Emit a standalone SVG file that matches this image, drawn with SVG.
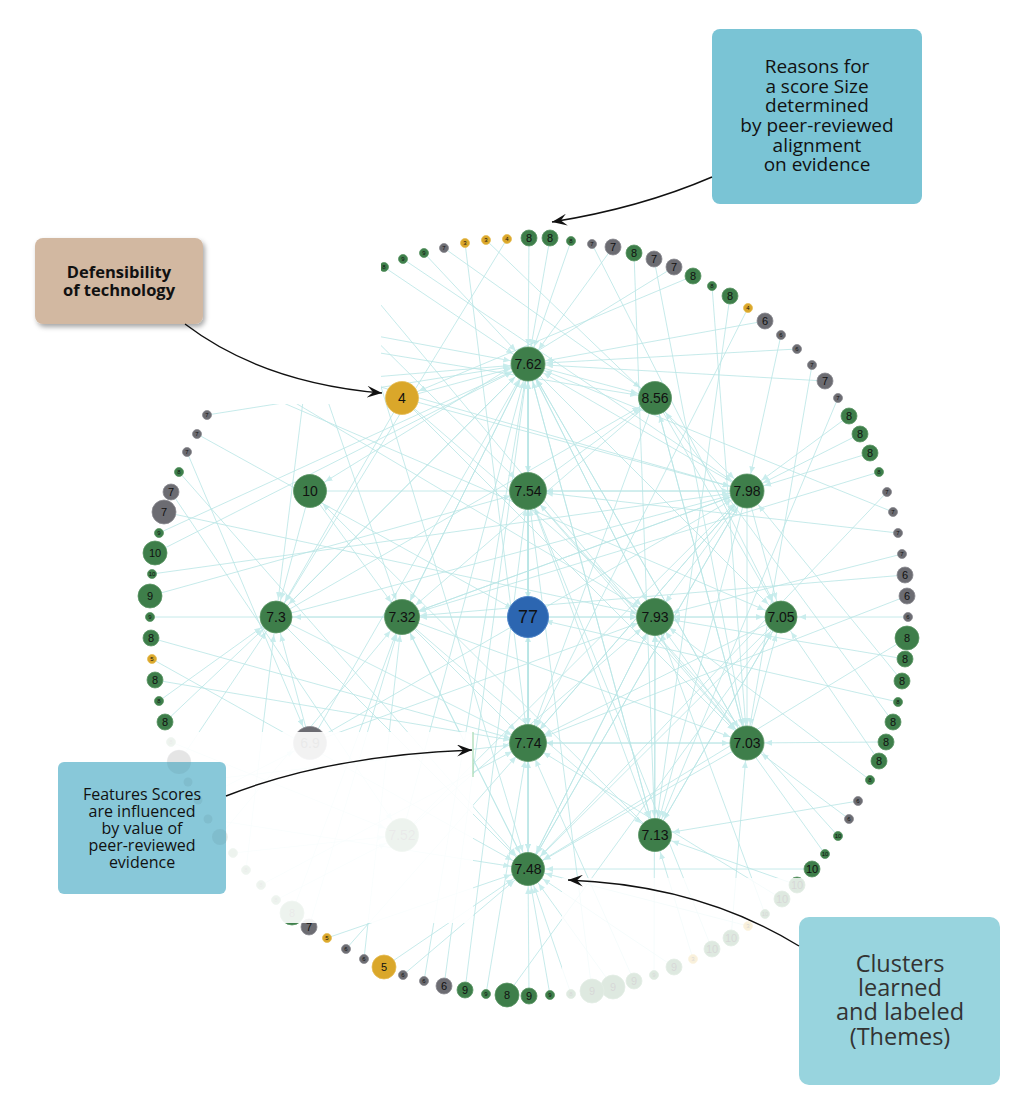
<svg xmlns="http://www.w3.org/2000/svg" width="1024" height="1116" viewBox="0 0 1024 1116">
<style>
.edges line{stroke:#b9e5e5;stroke-width:0.9;opacity:0.9;marker-end:url(#ah)}
.g circle{fill:#3e7e4a;stroke:#5b9565;stroke-width:0.8}
.y circle{fill:#daa72a;stroke:#e6bd55;stroke-width:0.8}
.k circle{fill:#6c6c72;stroke:#8a8a90;stroke-width:0.8}
.b circle{fill:#2c66b1;stroke:#4d84c8;stroke-width:1}
text{font-family:"Liberation Sans",Arial,sans-serif;fill:#111;text-anchor:middle;dominant-baseline:central}
.ts{font-size:6px}
.tm{font-size:11px}
.tl{font-size:13px}
.tc{font-size:14px}
.note{font-family:"Open Sans","Noto Sans",sans-serif;dominant-baseline:auto}
.conn{fill:none;stroke:#111;stroke-width:1.4;marker-end:url(#bk)}
</style>
<defs>
<marker id="ah" markerUnits="userSpaceOnUse" markerWidth="7" markerHeight="6" refX="25" refY="3" orient="auto"><path d="M0,0 L7,3 L0,6 z" fill="#c5ecec"/></marker>
<marker id="bk" markerUnits="userSpaceOnUse" markerWidth="16" markerHeight="12" refX="15" refY="6" orient="auto"><path d="M0,0 L15,6 L0,12 L6,6 z" fill="#111"/></marker>
<filter id="sh" x="-20%" y="-20%" width="150%" height="160%"><feDropShadow dx="2" dy="3" stdDeviation="2.5" flood-color="#000" flood-opacity="0.35"/></filter>
</defs>
<rect width="1024" height="1116" fill="#fff"/>
<g id="connectors" class="edges">
<line x1="384" y1="267" x2="528" y2="364"/><line x1="403" y1="259" x2="747" y2="491"/><line x1="424" y1="253" x2="528" y2="364"/><line x1="444" y1="248" x2="655" y2="398"/><line x1="465" y1="243" x2="528" y2="743"/><line x1="486" y1="240" x2="747" y2="491"/><line x1="507" y1="239" x2="276" y2="617"/><line x1="529" y1="238" x2="528" y2="364"/><line x1="550" y1="238" x2="528" y2="364"/><line x1="571" y1="241" x2="528" y2="364"/><line x1="592" y1="244" x2="781" y2="617"/><line x1="613" y1="247" x2="528" y2="364"/><line x1="634" y1="253" x2="655" y2="835"/><line x1="654" y1="259" x2="747" y2="743"/><line x1="674" y1="267" x2="310" y2="491"/><line x1="693" y1="276" x2="402" y2="398"/><line x1="712" y1="286" x2="747" y2="743"/><line x1="730" y1="296" x2="655" y2="835"/><line x1="748" y1="308" x2="528" y2="743"/><line x1="765" y1="321" x2="528" y2="364"/><line x1="781" y1="335" x2="747" y2="491"/><line x1="797" y1="349" x2="528" y2="364"/><line x1="812" y1="365" x2="747" y2="743"/><line x1="825" y1="381" x2="528" y2="364"/><line x1="838" y1="398" x2="655" y2="835"/><line x1="849" y1="416" x2="747" y2="491"/><line x1="860" y1="434" x2="747" y2="491"/><line x1="870" y1="453" x2="747" y2="491"/><line x1="879" y1="472" x2="402" y2="617"/><line x1="887" y1="492" x2="528" y2="869"/><line x1="893" y1="512" x2="528" y2="364"/><line x1="898" y1="533" x2="528" y2="491"/><line x1="902" y1="554" x2="655" y2="617"/><line x1="905" y1="575" x2="402" y2="617"/><line x1="907" y1="596" x2="528" y2="743"/><line x1="908" y1="617" x2="781" y2="617"/><line x1="907" y1="638" x2="528" y2="869"/><line x1="905" y1="659" x2="655" y2="617"/><line x1="902" y1="681" x2="747" y2="491"/><line x1="898" y1="702" x2="528" y2="617"/><line x1="893" y1="722" x2="655" y2="398"/><line x1="886" y1="742" x2="747" y2="743"/><line x1="879" y1="761" x2="781" y2="617"/><line x1="870" y1="780" x2="655" y2="617"/><line x1="858" y1="801" x2="655" y2="835"/><line x1="849" y1="819" x2="747" y2="743"/><line x1="838" y1="836" x2="528" y2="491"/><line x1="825" y1="854" x2="655" y2="617"/><line x1="812" y1="869" x2="528" y2="869"/><line x1="797" y1="885" x2="655" y2="835"/><line x1="782" y1="899" x2="528" y2="743"/><line x1="765" y1="914" x2="655" y2="617"/><line x1="748" y1="926" x2="528" y2="869"/><line x1="731" y1="938" x2="747" y2="743"/><line x1="712" y1="949" x2="528" y2="491"/><line x1="693" y1="959" x2="655" y2="835"/><line x1="674" y1="967" x2="528" y2="869"/><line x1="654" y1="975" x2="655" y2="617"/><line x1="634" y1="981" x2="528" y2="743"/><line x1="613" y1="987" x2="528" y2="869"/><line x1="592" y1="991" x2="528" y2="491"/><line x1="571" y1="994" x2="528" y2="869"/><line x1="550" y1="995" x2="528" y2="869"/><line x1="529" y1="996" x2="528" y2="869"/><line x1="507" y1="995" x2="781" y2="617"/><line x1="486" y1="994" x2="528" y2="743"/><line x1="465" y1="990" x2="528" y2="491"/><line x1="444" y1="986" x2="528" y2="364"/><line x1="424" y1="981" x2="528" y2="364"/><line x1="403" y1="975" x2="528" y2="869"/><line x1="384" y1="967" x2="528" y2="869"/><line x1="364" y1="959" x2="402" y2="617"/><line x1="346" y1="949" x2="528" y2="743"/><line x1="327" y1="938" x2="528" y2="869"/><line x1="309" y1="927" x2="402" y2="617"/><line x1="292" y1="913" x2="402" y2="617"/><line x1="276" y1="900" x2="402" y2="835"/><line x1="261" y1="885" x2="528" y2="743"/><line x1="246" y1="870" x2="276" y2="617"/><line x1="233" y1="853" x2="402" y2="835"/><line x1="219" y1="837" x2="402" y2="617"/><line x1="208" y1="819" x2="528" y2="869"/><line x1="197" y1="801" x2="310" y2="743"/><line x1="187" y1="782" x2="528" y2="743"/><line x1="179" y1="762" x2="276" y2="617"/><line x1="171" y1="742" x2="402" y2="835"/><line x1="165" y1="722" x2="276" y2="617"/><line x1="159" y1="701" x2="276" y2="617"/><line x1="155" y1="680" x2="528" y2="743"/><line x1="152" y1="659" x2="528" y2="869"/><line x1="151" y1="638" x2="528" y2="743"/><line x1="150" y1="617" x2="655" y2="617"/><line x1="150" y1="596" x2="528" y2="491"/><line x1="152" y1="574" x2="747" y2="491"/><line x1="155" y1="553" x2="528" y2="364"/><line x1="159" y1="533" x2="528" y2="364"/><line x1="164" y1="512" x2="655" y2="617"/><line x1="171" y1="492" x2="402" y2="835"/><line x1="179" y1="472" x2="528" y2="869"/><line x1="187" y1="452" x2="310" y2="743"/><line x1="197" y1="434" x2="528" y2="617"/><line x1="207" y1="415" x2="528" y2="364"/>
<line x1="290" y1="320" x2="528" y2="364"/><line x1="330" y1="295" x2="528" y2="491"/><line x1="250" y1="350" x2="747" y2="491"/><line x1="300" y1="320" x2="402" y2="617"/><line x1="240" y1="370" x2="655" y2="617"/><line x1="350" y1="285" x2="528" y2="869"/><line x1="220" y1="390" x2="528" y2="364"/><line x1="270" y1="335" x2="655" y2="398"/><line x1="360" y1="280" x2="747" y2="743"/><line x1="230" y1="380" x2="781" y2="617"/><line x1="315" y1="305" x2="276" y2="617"/>
<line x1="528" y1="491" x2="528" y2="617"/><line x1="528" y1="617" x2="528" y2="743"/><line x1="528" y1="743" x2="528" y2="617"/><line x1="528" y1="869" x2="528" y2="743"/><line x1="528" y1="364" x2="528" y2="491"/><line x1="528" y1="617" x2="402" y2="617"/><line x1="528" y1="617" x2="655" y2="617"/><line x1="655" y1="617" x2="781" y2="617"/><line x1="781" y1="617" x2="655" y2="617"/><line x1="402" y1="617" x2="276" y2="617"/><line x1="747" y1="491" x2="528" y2="491"/><line x1="747" y1="743" x2="528" y2="743"/><line x1="528" y1="743" x2="747" y2="743"/><line x1="655" y1="835" x2="655" y2="617"/>
<line x1="402" y1="617" x2="528" y2="364"/><line x1="276" y1="617" x2="528" y2="364"/><line x1="528" y1="869" x2="528" y2="364"/><line x1="655" y1="617" x2="528" y2="364"/><line x1="655" y1="835" x2="528" y2="364"/><line x1="402" y1="835" x2="528" y2="364"/><line x1="310" y1="743" x2="528" y2="364"/><line x1="747" y1="743" x2="528" y2="364"/>
<line x1="402" y1="398" x2="747" y2="491"/><line x1="310" y1="491" x2="747" y2="491"/><line x1="402" y1="617" x2="747" y2="491"/><line x1="276" y1="617" x2="747" y2="491"/><line x1="310" y1="743" x2="747" y2="491"/><line x1="528" y1="743" x2="747" y2="491"/><line x1="528" y1="869" x2="747" y2="491"/><line x1="402" y1="835" x2="747" y2="491"/>
<line x1="528" y1="364" x2="402" y2="617"/><line x1="655" y1="398" x2="402" y2="617"/><line x1="747" y1="491" x2="402" y2="617"/><line x1="528" y1="869" x2="402" y2="617"/><line x1="310" y1="491" x2="402" y2="617"/>
<line x1="528" y1="364" x2="655" y2="617"/><line x1="402" y1="398" x2="655" y2="617"/><line x1="747" y1="491" x2="655" y2="617"/><line x1="310" y1="743" x2="655" y2="617"/><line x1="402" y1="835" x2="655" y2="617"/><line x1="528" y1="869" x2="655" y2="617"/>
<line x1="528" y1="364" x2="747" y2="743"/><line x1="528" y1="491" x2="747" y2="743"/><line x1="402" y1="617" x2="747" y2="743"/><line x1="655" y1="398" x2="747" y2="743"/><line x1="747" y1="491" x2="747" y2="743"/><line x1="402" y1="398" x2="747" y2="743"/>
<line x1="528" y1="364" x2="528" y2="869"/><line x1="528" y1="491" x2="528" y2="869"/><line x1="747" y1="491" x2="528" y2="869"/><line x1="402" y1="617" x2="528" y2="869"/><line x1="655" y1="617" x2="528" y2="869"/><line x1="781" y1="617" x2="528" y2="869"/><line x1="747" y1="743" x2="528" y2="869"/><line x1="276" y1="617" x2="528" y2="869"/>
<line x1="528" y1="364" x2="528" y2="743"/><line x1="747" y1="491" x2="528" y2="743"/><line x1="655" y1="398" x2="528" y2="743"/><line x1="402" y1="617" x2="528" y2="743"/><line x1="276" y1="617" x2="528" y2="743"/><line x1="781" y1="617" x2="528" y2="743"/>
<line x1="528" y1="364" x2="655" y2="835"/><line x1="528" y1="491" x2="655" y2="835"/><line x1="747" y1="491" x2="655" y2="835"/><line x1="781" y1="617" x2="655" y2="835"/><line x1="402" y1="617" x2="655" y2="835"/>
<line x1="655" y1="835" x2="310" y2="491"/><line x1="528" y1="364" x2="276" y2="617"/><line x1="402" y1="398" x2="276" y2="617"/><line x1="310" y1="743" x2="276" y2="617"/><line x1="310" y1="491" x2="276" y2="617"/>
<line x1="747" y1="491" x2="781" y2="617"/><line x1="528" y1="364" x2="781" y2="617"/><line x1="655" y1="398" x2="781" y2="617"/><line x1="655" y1="835" x2="781" y2="617"/><line x1="747" y1="743" x2="781" y2="617"/>
<line x1="528" y1="364" x2="655" y2="398"/><line x1="528" y1="491" x2="655" y2="398"/><line x1="276" y1="617" x2="655" y2="398"/><line x1="747" y1="743" x2="655" y2="398"/><line x1="528" y1="743" x2="528" y2="364"/><line x1="747" y1="491" x2="528" y2="364"/><line x1="402" y1="398" x2="528" y2="364"/>
</g>
<g id="ring">
<g id="r01" class="g"><circle cx="384" cy="267" r="4.5"/><text x="384" y="267" class="ts">8</text></g>
<g id="r02" class="g"><circle cx="403" cy="259" r="4.5"/><text x="403" y="259" class="ts">9</text></g>
<g id="r03" class="g"><circle cx="424" cy="253" r="4.5"/><text x="424" y="253" class="ts">9</text></g>
<g id="r04" class="k"><circle cx="444" cy="248" r="4.5"/><text x="444" y="248" class="ts">7</text></g>
<g id="r05" class="y"><circle cx="465" cy="243" r="4.5"/><text x="465" y="243" class="ts">3</text></g>
<g id="r06" class="y"><circle cx="486" cy="240" r="4.5"/><text x="486" y="240" class="ts">3</text></g>
<g id="r07" class="y"><circle cx="507" cy="239" r="4.5"/><text x="507" y="239" class="ts">4</text></g>
<g id="r08" class="g"><circle cx="529" cy="238" r="8"/><text x="529" y="238" class="tm">8</text></g>
<g id="r09" class="g"><circle cx="550" cy="238" r="8"/><text x="550" y="238" class="tm">8</text></g>
<g id="r10" class="g"><circle cx="571" cy="241" r="4.5"/><text x="571" y="241" class="ts">8</text></g>
<g id="r11" class="k"><circle cx="592" cy="244" r="4.5"/><text x="592" y="244" class="ts">7</text></g>
<g id="r12" class="k"><circle cx="613" cy="247" r="8"/><text x="613" y="247" class="tm">7</text></g>
<g id="r13" class="g"><circle cx="634" cy="253" r="8"/><text x="634" y="253" class="tm">8</text></g>
<g id="r14" class="k"><circle cx="654" cy="259" r="8"/><text x="654" y="259" class="tm">7</text></g>
<g id="r15" class="k"><circle cx="674" cy="267" r="8"/><text x="674" y="267" class="tm">7</text></g>
<g id="r16" class="g"><circle cx="693" cy="276" r="8"/><text x="693" y="276" class="tm">8</text></g>
<g id="r17" class="g"><circle cx="712" cy="286" r="4.5"/><text x="712" y="286" class="ts">8</text></g>
<g id="r18" class="g"><circle cx="730" cy="296" r="8"/><text x="730" y="296" class="tm">8</text></g>
<g id="r19" class="y"><circle cx="748" cy="308" r="4.5"/><text x="748" y="308" class="ts">4</text></g>
<g id="r20" class="k"><circle cx="765" cy="321" r="8"/><text x="765" y="321" class="tm">6</text></g>
<g id="r21" class="k"><circle cx="781" cy="335" r="4.5"/><text x="781" y="335" class="ts">6</text></g>
<g id="r22" class="k"><circle cx="797" cy="349" r="4.5"/><text x="797" y="349" class="ts">6</text></g>
<g id="r23" class="k"><circle cx="812" cy="365" r="4.5"/><text x="812" y="365" class="ts">7</text></g>
<g id="r24" class="k"><circle cx="825" cy="381" r="8"/><text x="825" y="381" class="tm">7</text></g>
<g id="r25" class="k"><circle cx="838" cy="398" r="4.5"/><text x="838" y="398" class="ts">7</text></g>
<g id="r26" class="g"><circle cx="849" cy="416" r="8"/><text x="849" y="416" class="tm">8</text></g>
<g id="r27" class="g"><circle cx="860" cy="434" r="8"/><text x="860" y="434" class="tm">8</text></g>
<g id="r28" class="g"><circle cx="870" cy="453" r="8"/><text x="870" y="453" class="tm">8</text></g>
<g id="r29" class="g"><circle cx="879" cy="472" r="4.5"/><text x="879" y="472" class="ts">8</text></g>
<g id="r30" class="k"><circle cx="887" cy="492" r="4.5"/><text x="887" y="492" class="ts">7</text></g>
<g id="r31" class="k"><circle cx="893" cy="512" r="4.5"/><text x="893" y="512" class="ts">7</text></g>
<g id="r32" class="k"><circle cx="898" cy="533" r="4.5"/><text x="898" y="533" class="ts">7</text></g>
<g id="r33" class="k"><circle cx="902" cy="554" r="4.5"/><text x="902" y="554" class="ts">7</text></g>
<g id="r34" class="k"><circle cx="905" cy="575" r="8"/><text x="905" y="575" class="tm">6</text></g>
<g id="r35" class="k"><circle cx="907" cy="596" r="8"/><text x="907" y="596" class="tm">6</text></g>
<g id="r36" class="k"><circle cx="908" cy="617" r="4.5"/><text x="908" y="617" class="ts">6</text></g>
<g id="r37" class="g"><circle cx="907" cy="638" r="12"/><text x="907" y="638" class="tm">8</text></g>
<g id="r38" class="g"><circle cx="905" cy="659" r="8"/><text x="905" y="659" class="tm">8</text></g>
<g id="r39" class="g"><circle cx="902" cy="681" r="8"/><text x="902" y="681" class="tm">8</text></g>
<g id="r40" class="g"><circle cx="898" cy="702" r="4.5"/><text x="898" y="702" class="ts">8</text></g>
<g id="r41" class="g"><circle cx="893" cy="722" r="8"/><text x="893" y="722" class="tm">8</text></g>
<g id="r42" class="g"><circle cx="886" cy="742" r="8"/><text x="886" y="742" class="tm">8</text></g>
<g id="r43" class="g"><circle cx="879" cy="761" r="8"/><text x="879" y="761" class="tm">8</text></g>
<g id="r44" class="g"><circle cx="870" cy="780" r="4.5"/><text x="870" y="780" class="ts">8</text></g>
<g id="r45" class="k"><circle cx="858" cy="801" r="4.5"/><text x="858" y="801" class="ts">6</text></g>
<g id="r46" class="k"><circle cx="849" cy="819" r="4.5"/><text x="849" y="819" class="ts">6</text></g>
<g id="r47" class="g"><circle cx="838" cy="836" r="4.5"/><text x="838" y="836" class="ts">10</text></g>
<g id="r48" class="g"><circle cx="825" cy="854" r="4.5"/><text x="825" y="854" class="ts">10</text></g>
<g id="r49" class="g"><circle cx="812" cy="869" r="8"/><text x="812" y="869" class="tm">10</text></g>
<g id="r50" class="g"><circle cx="797" cy="885" r="8"/><text x="797" y="885" class="tm">10</text></g>
<g id="r51" class="g"><circle cx="782" cy="899" r="8"/><text x="782" y="899" class="tm">10</text></g>
<g id="r52" class="g"><circle cx="765" cy="914" r="4.5"/><text x="765" y="914" class="ts">10</text></g>
<g id="r53" class="y"><circle cx="748" cy="926" r="4.5"/><text x="748" y="926" class="ts">3</text></g>
<g id="r54" class="g"><circle cx="731" cy="938" r="8"/><text x="731" y="938" class="tm">10</text></g>
<g id="r55" class="g"><circle cx="712" cy="949" r="8"/><text x="712" y="949" class="tm">10</text></g>
<g id="r56" class="y"><circle cx="693" cy="959" r="4.5"/><text x="693" y="959" class="ts">3</text></g>
<g id="r57" class="g"><circle cx="674" cy="967" r="8"/><text x="674" y="967" class="tm">9</text></g>
<g id="r58" class="g"><circle cx="654" cy="975" r="4.5"/><text x="654" y="975" class="ts">9</text></g>
<g id="r59" class="g"><circle cx="634" cy="981" r="8"/><text x="634" y="981" class="tm">9</text></g>
<g id="r60" class="g"><circle cx="613" cy="987" r="12"/><text x="613" y="987" class="tm">9</text></g>
<g id="r61" class="g"><circle cx="592" cy="991" r="12"/><text x="592" y="991" class="tm">9</text></g>
<g id="r62" class="g"><circle cx="571" cy="994" r="4.5"/><text x="571" y="994" class="ts">8</text></g>
<g id="r63" class="g"><circle cx="550" cy="995" r="4.5"/><text x="550" y="995" class="ts">9</text></g>
<g id="r64" class="g"><circle cx="529" cy="996" r="8"/><text x="529" y="996" class="tm">9</text></g>
<g id="r65" class="g"><circle cx="507" cy="995" r="12"/><text x="507" y="995" class="tm">8</text></g>
<g id="r66" class="g"><circle cx="486" cy="994" r="4.5"/><text x="486" y="994" class="ts">9</text></g>
<g id="r67" class="g"><circle cx="465" cy="990" r="8"/><text x="465" y="990" class="tm">9</text></g>
<g id="r68" class="k"><circle cx="444" cy="986" r="8"/><text x="444" y="986" class="tm">6</text></g>
<g id="r69" class="k"><circle cx="424" cy="981" r="4.5"/><text x="424" y="981" class="ts">6</text></g>
<g id="r70" class="k"><circle cx="403" cy="975" r="4.5"/><text x="403" y="975" class="ts">6</text></g>
<g id="r71" class="y"><circle cx="384" cy="967" r="12"/><text x="384" y="967" class="tm">5</text></g>
<g id="r72" class="k"><circle cx="364" cy="959" r="4.5"/><text x="364" y="959" class="ts">6</text></g>
<g id="r73" class="k"><circle cx="346" cy="949" r="4.5"/><text x="346" y="949" class="ts">6</text></g>
<g id="r74" class="y"><circle cx="327" cy="938" r="4.5"/><text x="327" y="938" class="ts">5</text></g>
<g id="r75" class="k"><circle cx="309" cy="927" r="8"/><text x="309" y="927" class="tm">7</text></g>
<g id="r76" class="g"><circle cx="292" cy="913" r="12"/><text x="292" y="913" class="tm">8</text></g>
<g id="r77" class="g"><circle cx="276" cy="900" r="4.5"/><text x="276" y="900" class="ts">8</text></g>
<g id="r78" class="g"><circle cx="261" cy="885" r="4.5"/><text x="261" y="885" class="ts">8</text></g>
<g id="r79" class="g"><circle cx="246" cy="870" r="4.5"/><text x="246" y="870" class="ts">8</text></g>
<g id="r80" class="g"><circle cx="233" cy="853" r="4.5"/></g>
<g id="r81" class="g"><circle cx="219" cy="837" r="8"/></g>
<g id="r82" class="g"><circle cx="208" cy="819" r="4.5"/></g>
<g id="r83" class="g"><circle cx="197" cy="801" r="4.5"/></g>
<g id="r84" class="g"><circle cx="187" cy="782" r="4.5"/></g>
<g id="r85" class="k"><circle cx="179" cy="762" r="12"/></g>
<g id="r86" class="g"><circle cx="171" cy="742" r="4.5"/><text x="171" y="742" class="ts">8</text></g>
<g id="r87" class="g"><circle cx="165" cy="722" r="8"/><text x="165" y="722" class="tm">8</text></g>
<g id="r88" class="g"><circle cx="159" cy="701" r="4.5"/><text x="159" y="701" class="ts">8</text></g>
<g id="r89" class="g"><circle cx="155" cy="680" r="8"/><text x="155" y="680" class="tm">8</text></g>
<g id="r90" class="y"><circle cx="152" cy="659" r="4.5"/><text x="152" y="659" class="ts">5</text></g>
<g id="r91" class="g"><circle cx="151" cy="638" r="8"/><text x="151" y="638" class="tm">8</text></g>
<g id="r92" class="g"><circle cx="150" cy="617" r="4.5"/><text x="150" y="617" class="ts">9</text></g>
<g id="r93" class="g"><circle cx="150" cy="596" r="12"/><text x="150" y="596" class="tm">9</text></g>
<g id="r94" class="g"><circle cx="152" cy="574" r="4.5"/><text x="152" y="574" class="ts">10</text></g>
<g id="r95" class="g"><circle cx="155" cy="553" r="12"/><text x="155" y="553" class="tm">10</text></g>
<g id="r96" class="g"><circle cx="159" cy="533" r="4.5"/><text x="159" y="533" class="ts">9</text></g>
<g id="r97" class="k"><circle cx="164" cy="512" r="12"/><text x="164" y="512" class="tm">7</text></g>
<g id="r98" class="k"><circle cx="171" cy="492" r="8"/><text x="171" y="492" class="tm">7</text></g>
<g id="r99" class="g"><circle cx="179" cy="472" r="4.5"/><text x="179" y="472" class="ts">8</text></g>
<g id="r100" class="k"><circle cx="187" cy="452" r="4.5"/><text x="187" y="452" class="ts">7</text></g>
<g id="r101" class="k"><circle cx="197" cy="434" r="4.5"/><text x="197" y="434" class="ts">7</text></g>
<g id="r102" class="k"><circle cx="207" cy="415" r="4.5"/><text x="207" y="415" class="ts">7</text></g>
</g>
<g id="core">
<g id="nA" class="g"><circle cx="528" cy="364" r="17"/><text x="528" y="364" class="tc">7.62</text></g>
<g id="nB" class="y"><circle cx="402" cy="398" r="16.5"/><text x="402" y="398" class="tc">4</text></g>
<g id="nC" class="g"><circle cx="655" cy="398" r="16.5"/><text x="655" y="398" class="tc">8.56</text></g>
<g id="nD" class="g"><circle cx="310" cy="491" r="16.5"/><text x="310" y="491" class="tc">10</text></g>
<g id="nE" class="g"><circle cx="528" cy="491" r="18.5"/><text x="528" y="491" class="tc">7.54</text></g>
<g id="nF" class="g"><circle cx="747" cy="491" r="17"/><text x="747" y="491" class="tc">7.98</text></g>
<g id="nG" class="g"><circle cx="276" cy="617" r="16"/><text x="276" y="617" class="tc">7.3</text></g>
<g id="nH" class="g"><circle cx="402" cy="617" r="17.5"/><text x="402" y="617" class="tc">7.32</text></g>
<g id="nI" class="b"><circle cx="528" cy="617" r="20.5"/><text x="528" y="617" style="font-size:18px">77</text></g>
<g id="nJ" class="g"><circle cx="655" cy="617" r="18.5"/><text x="655" y="617" class="tc">7.93</text></g>
<g id="nK" class="g"><circle cx="781" cy="617" r="16"/><text x="781" y="617" class="tc">7.05</text></g>
<g id="nL" class="k"><circle cx="310" cy="743" r="16.5"/><text x="310" y="743" class="tc">6.9</text></g>
<g id="nM" class="g"><circle cx="528" cy="743" r="18.5"/><text x="528" y="743" class="tc">7.74</text></g>
<g id="nN" class="g"><circle cx="747" cy="743" r="17"/><text x="747" y="743" class="tc">7.03</text></g>
<g id="nO" class="g"><circle cx="402" cy="835" r="16.5"/><text x="402" y="835" class="tc">7.52</text></g>
<g id="nP" class="g"><circle cx="655" cy="835" r="16.5"/><text x="655" y="835" class="tc">7.13</text></g>
<g id="nQ" class="g"><circle cx="528" cy="869" r="16.5"/><text x="528" y="869" class="tc">7.48</text></g>
</g>
<g id="veils">
<rect x="140" y="232" width="241" height="172" fill="#fff"/>
<rect x="128" y="732" width="345" height="191" fill="#fff" opacity="0.91"/>
<rect x="562" y="878" width="280" height="135" fill="#fff" opacity="0.83"/>
<line x1="473" y1="732" x2="473" y2="777" stroke="#a5d9b0" stroke-width="1.2"/>
</g>
<g id="note-reasons">
<rect x="712" y="29" width="210" height="175" rx="8" fill="#7ac4d5"/>
<text class="note" font-size="19" x="817" y="73">Reasons for</text>
<text class="note" font-size="19" x="817" y="93">a score Size</text>
<text class="note" font-size="19" x="817" y="112">determined</text>
<text class="note" font-size="19" x="817" y="132">by peer-reviewed</text>
<text class="note" font-size="19" x="817" y="152">alignment</text>
<text class="note" font-size="19" x="817" y="171">on evidence</text>
</g>
<g id="note-defensibility">
<rect x="35" y="238" width="168" height="86" rx="8" fill="#d2b8a1" filter="url(#sh)"/>
<text class="note" font-size="16.5" font-weight="bold" x="119" y="278">Defensibility</text>
<text class="note" font-size="16.5" font-weight="bold" x="119" y="296">of technology</text>
</g>
<g id="note-features">
<rect x="58" y="762" width="168" height="132" rx="6" fill="#88c8d9"/>
<g fill="#000" opacity="0.05"><circle cx="179" cy="762" r="12"/><circle cx="188" cy="782" r="4.5"/><circle cx="198" cy="800" r="4.5"/><circle cx="208" cy="819" r="4.5"/><circle cx="220" cy="837" r="8"/></g>
<text class="note" font-size="16" x="142" y="800">Features Scores</text>
<text class="note" font-size="16" x="142" y="817">are influenced</text>
<text class="note" font-size="16" x="142" y="834">by value of</text>
<text class="note" font-size="16" x="142" y="851">peer-reviewed</text>
<text class="note" font-size="16" x="142" y="868">evidence</text>
</g>
<g id="note-clusters">
<rect x="799" y="917" width="201" height="168" rx="10" fill="#98d4de"/>
<text class="note" font-size="23.5" x="900" y="972" style="fill:#333">Clusters</text>
<text class="note" font-size="23.5" x="900" y="996" style="fill:#333">learned</text>
<text class="note" font-size="23.5" x="900" y="1020" style="fill:#333">and labeled</text>
<text class="note" font-size="23.5" x="900" y="1045" style="fill:#333">(Themes)</text>
</g>
<g id="annotation-arrows">
<path class="conn" d="M712,177 Q640,208 552,222"/>
<path class="conn" d="M185,324 C235,362 300,386 382,393"/>
<path class="conn" d="M226,796 Q330,755 472,750"/>
<path class="conn" d="M799,946 Q700,885 568,880"/>
</g>
</svg>
